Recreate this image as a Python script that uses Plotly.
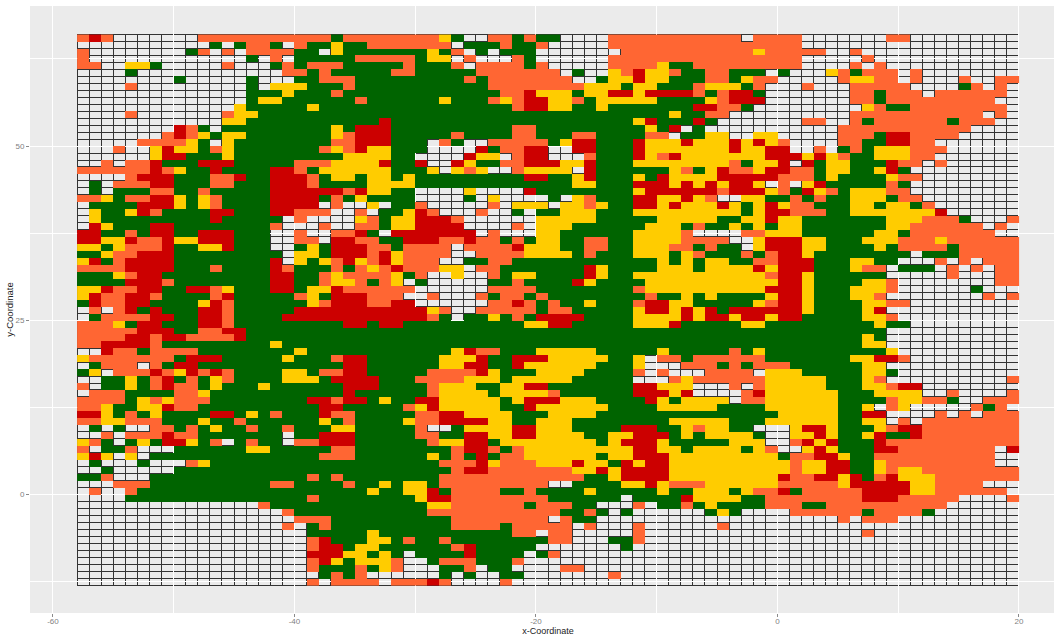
import plotly.graph_objects as go

# Run-length coded cell categories, one string per grid row (top row first).
# . none, G green, Y yellow, O orange, R red
LEFT = [
"O R O 7. 11O G 5O",
"11. G . G 2O G . O 2G Y 2G 3O",
"O 8. G O . O . 4O 2G . Y 5G",
"O 13. G . O . 5G 4O",
"2O 2. 2Y G 5. O 3. G O G 3O 5G",
"4. G 12. 2O G O 5G O",
"8. G 5. G 3. 2G 3O 4G",
"4. O 9. G . 3Y 3G O 4G",
"14. 3G Y 3G O 5G",
"14. G 2Y 6G O 3G",
"13. Y 5G Y 7G",
"4. O 7. O 2Y 12G",
"12. 2Y 11G R G",
"8. R O G . 9G Y G 3R G",
"7. O R O Y G 2Y 7G Y O 3R G",
"5. 4O Y G . Y 8G 2O 3R G",
"3. O 2. Y R 2Y G O Y 7G O Y O R 2Y G",
"6. Y 2R 3G Y 9G 4Y G",
"2. O . 2O R 3G 3R 5G 3O 4Y R G",
"6O R O Y 2G R 4G 2R O G 6Y G",
"4. O 3R 3G 2O R 2G 3R O G 2Y G 2Y G",
". G . 3O 2R 3G 2O 3G 3R O 4G 3Y",
". G . 3G 2O 2G O 5G 6R O R 2Y G",
"2O Y G 2O 2R Y G Y O 4G 4R G O G Y 3G",
". 4G 3R Y G Y O 4G 4R . O 2. Y . G",
". Y 2G Y R O 4G 2R 3G 2R 3O 2. O . 2G",
". Y 9G R 5G . O 4. Y O G Y",
". R Y 3G 2R 8G O 2. . O 2. 2O G Y",
"2R 2G O G 2R 2G 3R 3G 2. O 2. 2O R G . R",
"2R 2Y R 2O R 2Y 3R 3G 2. 2O . 2R 2O 2G",
"2Y G Y 3O R 2G 2Y R 3G 2. G Y G 3R 2O G",
"2G Y 2O 3R 9G . 2Y G 3R O R Y",
"Y R G O 4R 8G R . Y G Y O R Y O R Y",
"4O 4R 3G O 4G R O 3G O G O Y O R",
"3G Y O 2R 9G 2R 2G O Y 4O Y",
"4G 3R O 8G 2R 2G O 2Y O G O Y",
"2Y R 2O 2R 2G 2R O Y 3G 2R G 2Y R 5O",
"Y R 2O 2R O 4G O R 5G O Y G 3R 3O",
"G R 2O 2R 4G Y R O 6G Y O 3R 2O R",
". O . O R G R 3G 2R O 5G 9R",
". G 4O 2R 2G 2R O 4G 10R",
"3O Y G 2R 3G 2R O 9G 2R G 2R",
"5O 3R 2G 2O 2R 13G",
"4O 2R O 2R 4O R 13G",
"2O 4R O 9G Y 10G",
"2. R 2O G 4O 8G Y 8G",
"Y 7O G 3R 5G Y 3G O 2R 3G",
". G 3O . O G 2R 12G 2R 3G",
"G Y . 3O R O Y R O R O 4G 2Y G 2O 2R 3G",
"2. 2G Y G O R G O G Y O 4G 3Y G 4R 2G",
"O . 2G Y G O R 2O G Y 3G Y 6G 3R 2G",
". 3O 4G 2O Y 11G R 4G",
"4O G Y O Y 3O 8G 2R O 2R G Y G",
"2O Y 2G 2Y R 2O 10G 2R 5G",
"2R Y G O G Y 4G 2R G Y G O 3G R 2O 4G",
"2O 2Y 3O 3G Y 2G O 6G Y G O 4G",
". G . G 2. 2O G O G Y 2G O 2G O 3G 2Y 4G",
"2. O . 3O R 2O 7G . 2G 3R 4G",
"Y O G . G Y G 2R Y G O . G O 2G . 2O 3R 4G",
"O . 2G O 3. 6G 2Y 5G 2O 4G",
"Y R Y . Y . 14G 3O 4G",
". G 3. G 3. O Y 16G",
"2. G 5. 19G",
"2G O 3. 13G O G O 5G",
"3. 3O 10G 2O 4G O 2G Y G",
". O 2. O 19G Y 2G",
"4. 15G O 7G",
"15. O 11G",
"17. O 9G",
"18. 3O 6G",
"17. O . G O 6G",
"19. 5G Y 2G",
"19. O R 3G 2Y G",
"19. O 2R G 2Y 2G",
"19. 3R 2Y G Y G",
"19. O R Y G 3Y O",
"19. O 3G O G Y O",
"20. G O G O 3.",
"19. O . 4O . O",
]
MID = [
"3O Y G 2. 2O G O 2G 4. 10O",
"4O . 3G O 2G O 5. 10O",
"2G Y G O . G . 3G 7. 9O",
"O G 2Y . O 3. O G 6. 10O",
"O 3G O . 4O G O 5. 4O Y 2G 3O",
"O 5G 7O . G 2. Y O R 2Y O 2G 2O",
"5G O G 7O 2. G 2Y R 2Y 3G 2O",
"7G 8O 3Y G 2Y 3G O 2Y",
"8G 2O R 3Y G 2Y 2R Y 4R O G O",
"3G Y 3G O Y O 2R 2Y O G 5Y 4G Y O",
"9G O 2R 2Y 2G Y 7G 2R O",
"22G Y 2G 2O",
"19G Y R 3G R G .",
"9G 2O 9G Y G R . G 2.",
"4G O 4G 2O 3G 2O 4G 2O . 2G 2Y",
"2G . O G 2. 5O G Y 2R 3G R 3Y R 3Y",
"2G 4. R G 2O 2R 2. 2R 3G R 7Y",
"G 4. R 2Y . O 2R 3. O 3G R Y O R 4Y",
"G R 2. R Y 2G 2O 3R 2Y R 3G 8Y",
"2G Y . Y O Y 2. O 4Y . R 4G 2G Y O G Y R",
"Y 9G 2R 2G Y R 3G Y G R 4Y R",
"Y 13G 2Y 3G 3R Y R Y R Y",
"G 4. Y 4. R 8G Y 6R O",
"G 4. G . Y 4. G . Y O 3G 2R 2Y R Y O .",
"G O 5. O . 3Y . 2Y O Y 2G 2R Y R 3Y R",
"Y R O 3. O 2. G . 2G 3Y 3G 8Y",
"Y 3R O 6. 5Y 5G 5Y G",
"Y 4R 4. O . 3Y 6G 3Y G O 2G",
"6R . O 3. 2Y 6G 4Y O 3.",
"3R 2O R 2O G O G 2Y 2G 2O 2G 4Y 4O",
"4O . 4O R 3Y 2G 2O 2G 3Y 2O G O G",
"4O 2. 4O 4Y G O 3G 3Y G Y O 2G",
"3O 2. 2G 2O 12G Y G Y G 2Y",
"3O 2Y . 2O 7G R Y 4G 3Y G 2Y",
"G O 2. Y 2. O G 2Y 4G R Y 2G 8Y",
". G 5. 2G O 4G R Y 4G 7Y",
"O 6. 4O 8G O 7Y",
"2. O 3. O G 2O G O 8G O 2G Y G Y G",
"R 6. 2O R O G O 2G Y 3G O 2R 2Y 3G",
"2R Y O 2. 5O G 2O 5G Y 2R Y R Y R G",
"2R O G . 2G Y G O G 4R 4G 4Y R Y 2R",
"10G 2Y 2R 5G 3Y R 4G",
"27G",
"27G",
"27G",
"4G Y R 2O 3G 5Y 5G Y 5G",
"3G 3Y R 2G 3R 5Y 2G Y . 2O G 3O",
"3G 2Y 2R 2G R 6Y 3G Y 3. 3O G",
"2G 4O R Y 3G 4Y 4G O . O 3. 2O",
"G 4O 3Y G 5Y 5G 3. O Y 3O",
"2G O 3Y 2G 2Y 2R 7G 2R 3Y 3.",
"2G O 4Y G 4Y O 6G 3R Y R 3.",
"G 2R 5Y G Y 3R 3Y 4G R Y G 4Y",
"O Y R 5Y 2G R 6Y 4G 5Y G",
"G 2O 2R 4Y 3G 4Y 11G",
"Y 2O 4R 2Y 2G 3Y 8G 5Y",
"G O 2. G 4Y 2R 3Y 4G 3R 2G Y O 2Y",
"G 2O 2G 2R 2Y 2R 4Y 2G 2Y 3R G Y G 2Y",
"2G O 2Y 2R G 8Y G Y 3R Y 5G",
"4G O 2R O G O 9Y 2R 2Y G 3Y",
"2G Y G O G R G 2O 6Y G 2Y 3R 5Y",
"3G 3O R Y 3O 3Y R 2Y G R Y 2R 5Y",
"4G O 2R 7O 2Y R Y 4R 5Y",
"3G 12O 2G Y 4R 5Y",
"2Y G 9O 2. 4G 2Y R Y 3O 2Y",
"2Y R G 4O 2G O 4G Y 5G Y 2G 3Y",
"G Y 2R 8O 6G . 4G R 3Y",
"2G 2Y 6O G 3O 2G 3. O . 2G O G Y G",
"2G 11O 2G O G . G 6. G Y",
"4G 8O . O 2G 11.",
"4G 4O G 5O . O 3. O 6. O",
"9G 2O . 2O 5. O 7.",
"O 2G O 8G 2O 3. 2G O 7.",
"4G O R 5G 7. G 8.",
". 4G R 4G . G O 14.",
"2. G 3O 3G O 17.",
"3. 2G O . 2G 4. 2O 12.",
"3. G . G 2. 2G 7. O 9.",
"2O R O 4. O 18.",
]
RIGHT = [
"O . 4O 7. 2O 9.",
"6O 18.",
"2O Y 5O 2. O 13.",
"6O 5. O 12.",
"6O 4. O . O 11.",
"3G . G 3. Y O G 3O . O 8.",
"G Y 2O 5. O 2Y 2O . O 3. O 2. 2O",
"Y G O 3. O 3. 5O 4. G O . O .",
"2R G 7. 2O G 3O . 6O .",
"3R 7. 2O G 9O 2.",
"O G 8. . Y O 2G 8O .",
"10. 11O . O .",
"6. 2O 2. O G 6O G 3O 2.",
"9. 11O 4.",
"2. 2Y 5. 3O G 2R 4O 5.",
"R Y R Y O 4. 2O 2G 2R 2O 7.",
"R 2Y 2R 2. O . G O G 3Y 3O 6.",
"3Y 3R Y R Y O 2G 3Y 2O 7.",
"O G 2Y R . R G 2Y 3G R 2O . O 6.",
"2O Y 2R 2O G 2Y 2G Y R G 9.",
"4R 3O G Y 4G Y 2O 8.",
"2R Y . O . Y R 5G O G 9.",
"3R Y O G R Y O G 3Y 2O 9.",
". 2Y 2G O G O 2G 3Y G 2O 8.",
"Y G Y R Y 2O 3G 2Y G 2Y G O 7.",
"Y G Y 2R 3O 2G 7Y R 6.",
"G 2Y R 2Y 7G 3Y 3O G 3. O",
"Y G Y G 2Y 7G 2Y 6O . O .",
". 2O 3Y 6G 2Y G 7O 2.",
"2. Y 3R 2Y 3G 3Y 3O Y 6O",
"G . Y 3R 2Y 4G Y G 4O G 5O",
"G O G O 2R Y 8G . 3G 5O",
"2G 2O 3R 3G 2Y 2G 3. O . O . 3O",
"2Y R Y 3R 3G Y 2O . 3G . O . O . 2O",
"3Y O 2R Y 6G 5. O 3. 2O",
"4Y 2R Y 4G 2Y O 8. 2O",
"3Y 3R Y 3G 3Y O 6. G 3.",
"3G Y 2R Y 3G 2Y O 8. O . O",
"2G Y O 2R Y 4G 2Y 2O 9.",
"6R Y 4G Y R 11.",
"Y 2R Y 2R 5G 2Y O 10.",
"G 2Y 9G Y 2G 9.",
"13G 11.",
"11G Y G 11.",
"11G 2Y 11.",
"O G Y 10G Y 10.",
"3O 7G 2Y 2R O 9.",
"O G 3O 6G 2Y 11.",
"2O . 3Y 5G 2Y G 10.",
"3O 5Y 3G Y O 10. O",
"O . O 5Y 3G 2Y O 2R 8.",
". O R 6Y 3G 4Y 2. O 4. O",
". 2O 6Y 4G O 2Y 2O G 2. 3O",
"3G 6Y 2G Y . O Y 5. O G O .",
"4G 5Y 2G 2R 3. . O . O . 3O",
"3G 6Y 2G 2Y . O . 8O",
"2G . 2. Y 2R Y 3G Y O 2R 8O",
"2Y G 2. 2Y R Y 2G Y R 2G R 8O",
"3Y 2. O R Y R 3G R 11O",
"Y G Y O 2. Y R Y 3G 2R 8O . R",
"4Y G 2O 2R Y 2G 10O 2.",
"5Y O 2Y 2R 2G Y 9O 2.",
"5Y O 2Y 2R 2G Y O 2Y 8O",
"4Y R 2O 2R Y R G O R 3Y 7O",
"4Y 5O Y 5R 2Y 4O 3.",
"G Y 2O R G 5O 4R 2Y 6O .",
"Y 2G 8O 3R 5O 4. O",
"3G 3O 2G 10O 6.",
"G 4. 6O G 4O G 7.",
"9. O . 3O 10.",
"24.",
"11. O 12.",
"24.",
"24.",
"24.",
"24.",
"24.",
"24.",
"24.",
]

X_TICKS = [-60, -40, -20, 0, 20]
X_LABELS = ["-60", "-40", "-20", "0", "20"]
Y_TICKS = [0, 25, 50]
Y_LABELS = ["0", "25", "50"]
CODES = {"G": 1, "Y": 2, "O": 3, "R": 4}
COLORS = ["#006400", "#FFCC00", "#FF6633", "#CC0000"]


def expand(text):
    out = ""
    for tok in text.split():
        out += tok[-1] * (int(tok[:-1]) if len(tok) > 1 else 1)
    return out


rows = []
bad = []
for i, (a, b, c) in enumerate(zip(LEFT, MID, RIGHT)):
    a, b, c = expand(a), expand(b), expand(c)
    if (len(a), len(b), len(c)) != (27, 27, 24):
        bad.append((i, len(a), len(b), len(c)))
    rows.append(a + b + c)
assert not bad and len(rows) == 79, bad

x_centers = [-57.5 + i for i in range(78)]
y_centers = [65.5 - i for i in range(79)]
z = [[CODES.get(ch) for ch in row] for row in rows]

x_lo, x_hi = x_centers[0] - 0.5, x_centers[-1] + 0.5
y_lo, y_hi = y_centers[-1] - 0.5, y_centers[0] + 0.5
grid_path = ""
for i in range(len(x_centers) + 1):
    grid_path += f"M{x_lo + i},{y_lo}L{x_lo + i},{y_hi}"
for j in range(len(y_centers) + 1):
    grid_path += f"M{x_lo},{y_lo + j}L{x_hi},{y_lo + j}"

fig = go.Figure()
scale = []
for i, col in enumerate(COLORS):
    scale += [[i / 4, col], [(i + 1) / 4, col]]
fig.add_trace(go.Heatmap(x=x_centers, y=y_centers, z=z, zmin=0.5, zmax=4.5, showscale=False,
                         colorscale=scale, hoverongaps=False))

axis = dict(showgrid=True, gridcolor="white", gridwidth=1, zeroline=False, showline=False,
            ticks="outside", ticklen=3, tickwidth=1, tickcolor="#8a8a8a",
            tickfont=dict(family="Liberation Sans", size=8, color="#7f7f7f"),
            automargin=False, tickmode="array")
fig.update_layout(
    width=1066, height=637, margin=dict(l=30, r=0, t=6, b=24),
    paper_bgcolor="white", plot_bgcolor="#EBEBEB", showlegend=False,
    shapes=[
        dict(type="rect", x0=x_lo, x1=x_hi, y0=y_lo, y1=y_hi, xref="x", yref="y", layer="below",
             fillcolor="#EBEBEB", line=dict(width=0)),
        dict(type="path", path=grid_path, xref="x", yref="y", layer="below",
             line=dict(color="#333333", width=1)),
    ],
    xaxis=dict(axis, range=[-61.9, 23.9], tickvals=X_TICKS, ticktext=X_LABELS, ticklabelstandoff=-3,
               minor=dict(tickmode="array", tickvals=[-50, -30, -10, 10], showgrid=True,
                          gridcolor="white", gridwidth=0.5, ticks=""),
               title=dict(text="x-Coordinate", standoff=2,
                          font=dict(family="Liberation Sans", size=9, color="#222222"))),
    yaxis=dict(axis, range=[-17, 70.1], tickvals=Y_TICKS, ticktext=Y_LABELS,
               minor=dict(tickmode="array", tickvals=[-12.5, 12.5, 37.5, 62.5], showgrid=True,
                          gridcolor="white", gridwidth=0.5, ticks=""),
               title=dict(text="y-Coordinate", standoff=0,
                          font=dict(family="Liberation Sans", size=9.5, color="#222222"))),
)
fig.write_html("out.html", config={"displayModeBar": False},
               post_script="document.body.style.margin='0';document.body.style.overflow='hidden';"
                           "document.documentElement.style.overflow='hidden';"
                           "document.querySelectorAll('.shapelayer path').forEach("
                           "function(p){p.style.shapeRendering='crispEdges';});")
